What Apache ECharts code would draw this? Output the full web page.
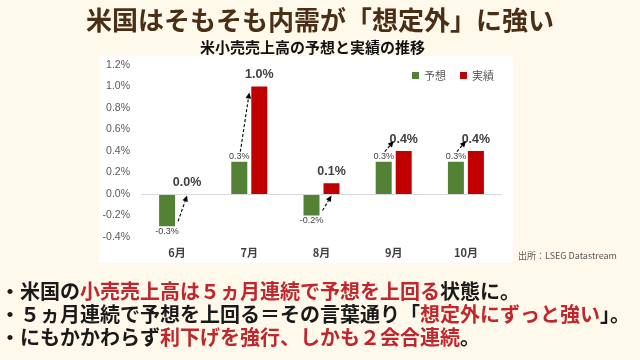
<!DOCTYPE html>
<html><head><meta charset="utf-8">
<script src="https://cdn.jsdelivr.net/npm/echarts@6/dist/echarts.min.js"></script>
<style>html,body{margin:0;padding:0;background:#fef9eb;}#c{width:640px;height:360px;}</style>
</head><body><div id="c"></div>
<script>
const categories = ['6月', '7月', '8月', '9月', '10月'];
const forecast = [-0.3, 0.3, -0.2, 0.3, 0.3];
const actual = [0.0, 1.0, 0.1, 0.4, 0.4];
const yTicks = { min: -0.4, max: 1.2, interval: 0.2 };
const seriesNames = ['予想', '実績'];
const mainTitle = '米国はそもそも内需が「想定外」に強い';
const subTitle = '米小売売上高の予想と実績の推移';
const sourceText = '出所：LSEG Datastream';
const bullets = [
  '・米国の{r|小売売上高は５ヵ月連続で予想を上回る}状態に。',
  '・５ヵ月連続で予想を上回る＝その言葉通り「{r|想定外にずっと強い}」。',
  '・にもかかわらず{r|利下げを強行、しかも２会合連続}。'
];

const JP = '"Noto Sans CJK JP", "Noto Sans", sans-serif';
const LAT = '"Liberation Sans", Arial, sans-serif';
const GREEN = '#548235', RED = '#c00000', TXTRED = '#c0272d';
const BW = 16, GAP = 4;

const chart = echarts.init(document.getElementById('c'), null, { renderer: 'canvas' });

const bulletTops = [280, 303, 326];
const titles = [
  { text: mainTitle, left: 'center', top: 7, padding: 0,
    textStyle: { fontFamily: JP, fontSize: 26, fontWeight: 'bold', color: '#4a2f16' } },
  { text: subTitle, left: 200, top: 40, padding: 0,
    textStyle: { fontFamily: JP, fontSize: 15, fontWeight: 'bold', color: '#111' } },
  { text: sourceText, left: 518, top: 251, padding: 0,
    textStyle: { fontFamily: JP, fontSize: 9, fontWeight: 'normal', color: '#595959' } }
];
bullets.forEach((b, i) => {
  titles.push({ text: b, left: 0, top: bulletTops[i], padding: 0,
    textStyle: { fontFamily: JP, fontSize: 20, fontWeight: 'bold', color: '#1a1a1a', lineHeight: 22,
      rich: { r: { fontFamily: JP, fontSize: 20, fontWeight: 'bold', color: TXTRED, lineHeight: 22 } } } });
});

const arrowData = categories.map((c, i) => [i, forecast[i], actual[i]]);

function renderArrow(params, api) {
  const i = api.value(0), f = api.value(1), a = api.value(2);
  const pF = api.coord([i, f]);
  const pA = api.coord([i, a]);
  const p0 = api.coord([i, 0]);
  const off = (BW + GAP) / 2;
  const gx = pF[0] - off, rx = pF[0] + off;
  let s, e;
  if (f < 0) {
    s = [gx + BW / 2 + 3, pF[1] - 5];
    e = [rx, p0[1] + 1.5];
  } else {
    s = [gx + 1, pF[1] - 10];
    if (pF[1] - pA[1] > 40) e = [rx - BW / 2 - 2, pA[1] + 6];
    else e = [rx - BW / 2 - 2, pA[1] - 10];
  }
  const dx = e[0] - s[0], dy = e[1] - s[1];
  const L = Math.sqrt(dx * dx + dy * dy);
  const ux = dx / L, uy = dy / L;
  const hl = 6, hw = 2.8;
  const bx = e[0] - ux * hl, by = e[1] - uy * hl;
  return {
    type: 'group',
    children: [
      { type: 'line', shape: { x1: s[0], y1: s[1], x2: bx, y2: by },
        style: { stroke: '#000', lineWidth: 1.1, lineDash: [3, 2] } },
      { type: 'polygon', shape: { points: [[e[0], e[1]], [bx - uy * hw, by + ux * hw], [bx + uy * hw, by - ux * hw]] },
        style: { fill: '#000' } }
    ]
  };
}

const option = {
  backgroundColor: '#fef9eb',
  animation: false,
  title: titles,
  graphic: [
    { type: 'rect', z: -10, shape: { x: 99, y: 56, width: 414, height: 207 }, style: { fill: '#ffffff' } }
  ],
  legend: {
    data: seriesNames, left: 407, top: 65, itemWidth: 7, itemHeight: 7, itemGap: 14, icon: 'rect',
    textStyle: { fontFamily: JP, fontSize: 11, color: '#595959' }
  },
  grid: { left: 141, right: 138, top: 65, bottom: 123 },
  xAxis: {
    type: 'category', data: categories,
    axisLine: { show: false, onZero: false }, axisTick: { show: false },
    axisLabel: { margin: 10, fontFamily: JP, fontSize: 11, fontWeight: 'bold', color: '#404040' }
  },
  yAxis: {
    type: 'value', min: yTicks.min, max: yTicks.max, interval: yTicks.interval,
    splitLine: { show: false }, axisLine: { show: false }, axisTick: { show: false },
    axisLabel: { margin: 11, fontFamily: LAT, fontSize: 10.5, color: '#595959',
      formatter: v => v.toFixed(1) + '%' }
  },
  series: [
    {
      name: seriesNames[0], type: 'bar', barWidth: BW, barGap: (GAP / BW * 100) + '%',
      itemStyle: { color: GREEN },
      data: forecast.map(v => ({ value: v, label: { position: v < 0 ? 'bottom' : 'top' } })),
      label: { show: true, distance: 1, fontFamily: LAT, fontSize: 9, color: '#404040',
        formatter: p => p.value.toFixed(1) + '%' },
      markLine: { silent: true, symbol: 'none', label: { show: false },
        lineStyle: { color: '#d9d9d9', width: 1, type: 'solid' }, data: [{ yAxis: 0 }] }
    },
    {
      name: seriesNames[1], type: 'bar', barWidth: BW,
      itemStyle: { color: RED },
      data: actual,
      label: { show: true, position: 'top', distance: 5, fontFamily: LAT, fontSize: 12.5, fontWeight: 'bold', color: '#404040',
        formatter: p => p.value.toFixed(1) + '%' }
    },
    {
      type: 'custom', silent: true, z: 5, data: arrowData,
      encode: { x: 0, y: 1 }, renderItem: renderArrow
    }
  ]
};
chart.setOption(option);
</script>
</body></html>
